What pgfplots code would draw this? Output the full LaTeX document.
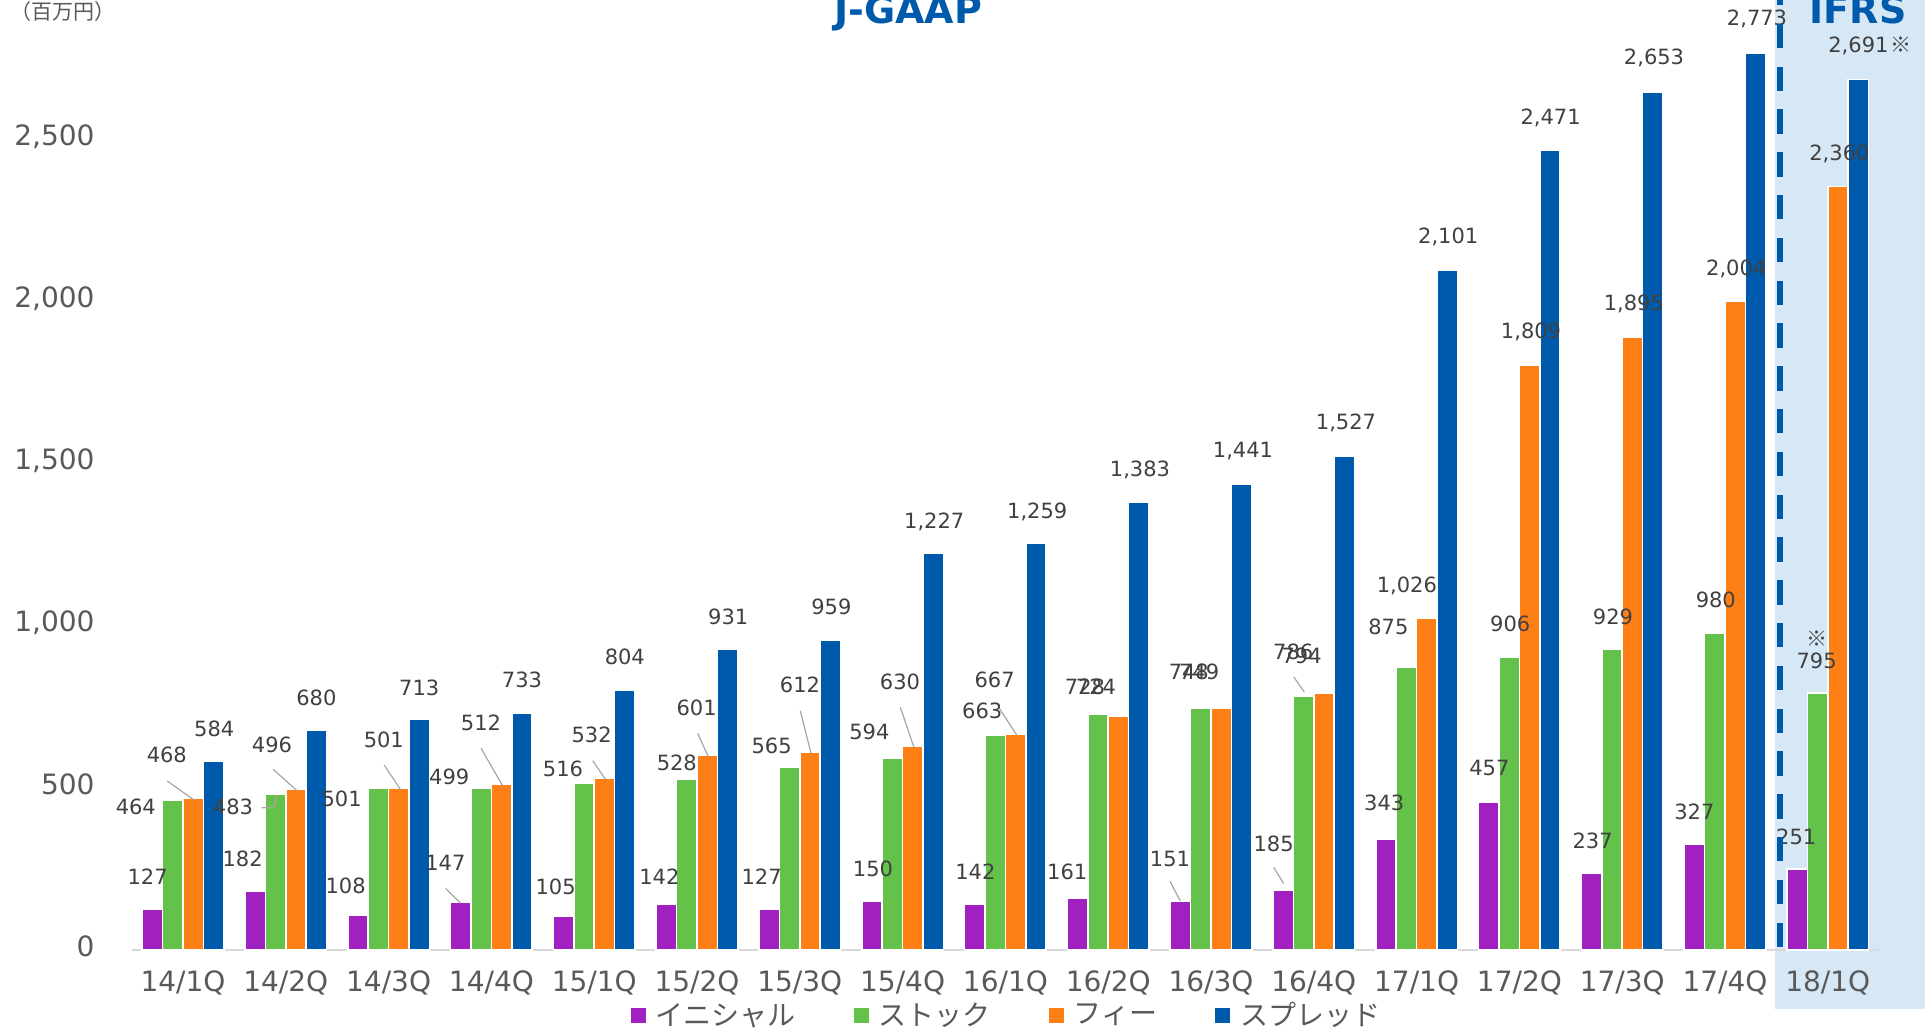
\documentclass[border=0pt]{standalone}
\usepackage{fontspec}
\setmainfont{DejaVu Sans}
\newfontfamily\cjk{Noto Sans CJK JP}
\usepackage{pgfplots}
\usepackage{pgfplotstable}
\pgfplotsset{compat=1.18}

\definecolor{cI}{HTML}{A020C0}
\definecolor{cS}{HTML}{64C24A}
\definecolor{cF}{HTML}{FF7F17}
\definecolor{cSp}{HTML}{005AAB}
\definecolor{bgblue}{HTML}{D6E7F6}
\definecolor{labgray}{HTML}{404040}
\definecolor{tickgray}{HTML}{595959}

\newcommand\komeA{\shortstack{{\cjk ※}\\795}}
\newcommand\komeB{2,691\kern1pt{\cjk ※}}

\pgfplotstableread{
x y dx dy lab
0 127 -2.4 16.0 127
1 182 -6.3 15.9 182
2 108 -6.2 14.5 108
3 147 -7.7 19.9 147
4 105 -4.0 14.7 105
5 142 -3.5 13.4 142
6 127 -3.8 15.8 127
7 150 0.5 16.3 150
8 142 0.3 15.9 142
9 161 -5.2 13.1 161
10 151 -5.2 21.0 151
11 185 -4.8 23.0 185
12 343 -0.9 18.0 343
13 457 0.3 17.0 457
14 237 0.5 16.0 237
15 327 0.0 16.0 327
16 251 -0.5 16.0 251
}\tabI

\pgfplotstableread{
x y dx dy lab
0 464 -18.5 -3.7 464
1 483 -21.3 -6.8 483
2 501 -18.4 -5.5 501
3 499 -16.0 5.7 499
4 516 -10.5 6.9 516
5 528 -5.0 8.0 528
6 565 -9.0 10.8 565
7 594 -11.5 13.0 594
8 663 -6.5 12.3 663
9 728 -6.5 13.6 728
10 748 -6.0 18.0 748
11 786 -5.2 22.0 786
12 875 -9.0 20.0 875
13 906 0.5 16.5 906
14 929 0.5 16.5 929
15 980 0.5 16.5 980
16 795 -0.5 16.0 \komeA
}\tabS

\pgfplotstableread{
x y dx dy lab
0 468 -13.2 21.8 468
1 496 -12.0 22.5 496
2 501 -7.5 24.0 501
3 512 -10.3 30.9 512
4 532 -6.4 21.5 532
5 601 -5.3 24.0 601
6 612 -5.0 33.5 612
7 630 -6.4 32.0 630
8 667 -10.5 27.0 667
9 724 -11.2 14.3 724
10 749 -11.0 18.0 749
11 794 -11.2 18.7 794
12 1026 -10.0 16.5 1,026
13 1809 0.7 17.0 1,809
14 1895 0.7 16.9 1,895
15 2004 0.5 16.7 2,004
16 2360 0.7 17.0 2,360
}\tabF

\pgfplotstableread{
x y dx dy lab
0 584 0.3 16.3 584
1 680 0.0 16.0 680
2 713 0.0 15.8 713
3 733 0.0 16.5 733
4 804 0.0 16.3 804
5 931 0.3 16.0 931
6 959 0.5 16.3 959
7 1227 0.5 16.2 1,227
8 1259 0.6 16.0 1,259
9 1383 0.6 17.0 1,383
10 1441 0.7 17.0 1,441
11 1527 0.8 17.0 1,527
12 2101 0.5 17.0 2,101
13 2471 0.3 17.0 2,471
14 2653 0.6 17.2 2,653
15 2773 0.7 17.3 2,773
16 2691 5.75 17.2 \komeB
}\tabSp

\pgfplotsset{
  mybar/.style={ybar, bar width=10.2pt, draw=white, line width=0.8pt, bar shift=#1,
    legend image code/.code={\fill[##1, draw=none] (0pt,-3.75pt) rectangle (7.5pt,3.75pt);},
    point meta=explicit symbolic,
    nodes near coords={\pgfplotspointmeta},
    nodes near coords align={center},
    visualization depends on={\thisrow{dx}\as\dx},
    visualization depends on={\thisrow{dy}\as\dy},
    nodes near coords style={anchor=center, inner sep=0pt, text height=7.6pt, text depth=0pt,
      font=\fontsize{10.5}{12}\selectfont, text=labgray, xshift={\dx pt+(#1)}, yshift=\dy pt},
  },
  leader/.style={sharp plot, no marks, draw=black!35, line width=0.6pt, forget plot},
}

\begin{document}
\begin{tikzpicture}
\fill[bgblue] (887.5pt,10pt) rectangle (975pt,530pt);
\begin{axis}[
  at={(65.8pt,39.5pt)}, anchor=south west, scale only axis,
  width=873.8pt, height=475pt,
  xmin=-0.5, xmax=16.5, ymin=0, ymax=2936.6,
  axis x line*=bottom, axis y line*=left,
  y axis line style={draw=none},
  x axis line style={draw=black!15, line width=1pt},
  major tick length=0pt,
  xtick={0,...,16},
  xticklabels={14/1Q,14/2Q,14/3Q,14/4Q,15/1Q,15/2Q,15/3Q,15/4Q,16/1Q,16/2Q,16/3Q,16/4Q,17/1Q,17/2Q,17/3Q,17/4Q,18/1Q},
  ytick={0,500,1000,1500,2000,2500},
  /pgf/number format/1000 sep={,},
  /pgf/number format/assume math mode=true,
  ticklabel style={font=\fontsize{14}{16}\selectfont, text=tickgray},
  xticklabel style={yshift=-7pt},
  yticklabel style={anchor=east, xshift=-15pt, yshift=2pt},
  clip=false,
  legend columns=4,
  legend style={at={(0.5012,-0.069)}, anchor=center, draw=none, fill=none,
    font=\cjk\fontsize{14}{16}\selectfont, text=tickgray,
    /tikz/every odd column/.append style={column sep=3pt},
    /tikz/every even column/.append style={column sep=27pt}},
]
\addplot[mybar=-15.3pt, fill=cI] table[x=x, y=y, meta=lab] {\tabI};
\addplot[mybar=-5.1pt, fill=cS] table[x=x, y=y, meta=lab] {\tabS};
\addplot[mybar=5.1pt, fill=cF] table[x=x, y=y, meta=lab] {\tabF};
\addplot[mybar=15.3pt, fill=cSp] table[x=x, y=y, meta=lab] {\tabSp};
\legend{イニシャル,ストック,フィー,スプレッド}

\addplot[leader] coordinates {(-0.154,522.4) (0.107,463.7)};
\addplot[leader] coordinates {(0.766,439.9) (0.885,439.9) (0.914,476.0)};
\addplot[leader] coordinates {(0.877,558.6) (1.109,492.4)};
\addplot[leader] coordinates {(1.957,571.9) (2.114,496.8)};
\addplot[leader] coordinates {(2.553,190.7) (2.701,144.4)};
\addplot[leader] coordinates {(2.899,623.5) (3.111,506.9)};
\addplot[leader] coordinates {(3.986,585.2) (4.109,527.7)};
\addplot[leader] coordinates {(5.007,669.9) (5.110,597.5)};
\addplot[leader] coordinates {(6.005,739.7) (6.109,608.0)};
\addplot[leader] coordinates {(6.978,750.2) (7.108,628.4)};
\addplot[leader] coordinates {(7.941,747.1) (8.110,664.6)};
\addplot[leader] coordinates {(9.601,212.1) (9.702,151.5)};
\addplot[leader] coordinates {(10.610,255.6) (10.707,205.3)};
\addplot[leader] coordinates {(10.805,843.9) (10.908,797.5)};
\end{axis}
\draw[cSp, line width=3.2pt, dash pattern=on 12.2pt off 9.2pt] (890pt,41pt) -- (890pt,530pt);
\node[anchor=base, font=\bfseries\fontsize{19}{22}\selectfont, text=cSp] at (454pt,502.5pt) {J-GAAP};
\node[anchor=base, font=\bfseries\fontsize{19}{22}\selectfont, text=cSp] at (929pt,502.5pt) {IFRS};
\node[font=\cjk\fontsize{10.5}{12}\selectfont, text=tickgray] at (31.5pt,508.5pt) {（百万円）};
\pgfresetboundingbox
\path[use as bounding box] (0,0) rectangle (962.5pt,514.5pt);
\end{tikzpicture}
\end{document}
